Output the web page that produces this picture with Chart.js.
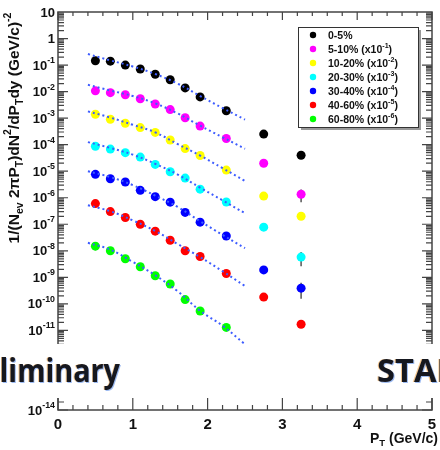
<!DOCTYPE html>
<html>
<head>
<meta charset="utf-8">
<script src="https://cdn.jsdelivr.net/npm/chart.js@4"></script>
<style>
  html, body { margin: 0; padding: 0; background: #fff; }
  #spectra { display: block; }
</style>
</head>
<body>
<canvas id="spectra" width="440" height="450"></canvas>
<script>
// pT bin centres (GeV/c)
const ptBins = [0.5, 0.7, 0.9, 1.1, 1.3, 1.5, 1.7, 1.9, 2.25, 2.75, 3.25];

// scaled spectra
const cent0_5   = [0.146, 0.14, 0.10, 0.071, 0.045, 0.028, 0.0138, 0.0063, 0.0019, 2.5e-4, 4.0e-5];
const cent5_10  = [0.0107, 0.0091, 0.0076, 0.0054, 0.0034, 0.0021, 0.00103, 5.0e-4, 1.7e-4, 2.0e-5, 1.35e-6];
const cent10_20 = [1.4e-3, 9.1e-4, 6.4e-4, 4.4e-4, 2.9e-4, 1.5e-4, 7.1e-5, 3.9e-5, 1.1e-5, 1.15e-6, 2.0e-7];
const cent20_30 = [8.7e-5, 6.8e-5, 5.0e-5, 3.4e-5, 1.8e-5, 9.5e-6, 5.5e-6, 2.1e-6, 6.9e-7, 7.8e-8, 5.8e-9];
const cent30_40 = [7.6e-6, 5.2e-6, 3.9e-6, 1.9e-6, 1.1e-6, 6.8e-7, 2.8e-7, 1.2e-7, 3.6e-8, 1.9e-9, 3.9e-10];
const cent40_60 = [6.0e-7, 3.0e-7, 1.8e-7, 1.0e-7, 5.5e-8, 2.5e-8, 1.0e-8, 6.1e-9, 1.4e-9, 1.8e-10, 1.7e-11];
const cent60_80 = [1.5e-8, 1.0e-8, 5.0e-9, 2.5e-9, 1.15e-9, 5.6e-10, 1.45e-10, 5.4e-11, 1.3e-11, null, null];

// relative error bars (only the visible ones)
const errFrac = [
  [0,0,0,0,0,0,0,0,0,0,0],
  [0,0,0,0,0,0,0,0,0,0,0.5],
  [0,0,0,0,0,0,0,0,0,0,0],
  [0,0,0,0,0,0,0,0,0,0,0.55],
  [0,0,0,0,0,0,0,0,0,0,0.6],
  [0,0,0,0,0,0,0,0,0,0,0.25],
  [0.3,0,0,0,0,0,0,0,0,0,0]
];

// fit curves
const fitPt = [0.4, 0.7, 1.0, 1.3, 1.6, 1.9, 2.2, 2.5];
const fit0_5   = [0.26, 0.15, 0.088, 0.046, 0.02, 0.0068, 0.0024, 8.8e-4];
const fit5_10  = [0.018, 0.011, 0.0068, 0.0036, 0.0015, 5.2e-4, 1.9e-4, 7.0e-5];
const fit10_20 = [1.8e-3, 1.05e-3, 5.6e-4, 2.9e-4, 1.05e-4, 3.9e-5, 1.3e-5, 4.3e-6];
const fit20_30 = [1.25e-4, 7.5e-5, 4.2e-5, 1.9e-5, 7.5e-6, 2.4e-6, 8.0e-7, 2.6e-7];
const fit30_40 = [1.0e-5, 6.0e-6, 3.0e-6, 1.2e-6, 4.5e-7, 1.3e-7, 4.0e-8, 1.25e-8];
const fit40_60 = [5.2e-7, 3.1e-7, 1.4e-7, 5.6e-8, 1.8e-8, 5.8e-9, 1.7e-9, 4.7e-10];
const fit60_80 = [2.0e-8, 1.1e-8, 3.8e-9, 1.2e-9, 3.0e-10, 5.5e-11, 1.5e-11, 3.0e-12];

const centLabels = ['0-5%', '5-10%', '10-20%', '20-30%', '30-40%', '40-60%', '60-80%'];
const scaleExp = [null, '-1', '-2', '-3', '-4', '-5', '-6'];
const centColors = ['#000000', '#ff00ff', '#ffff00', '#00ffff', '#0000ff', '#ff0000', '#00ff00'];

const xTicks = [0, 1, 2, 3, 4, 5];
const yDecades = [1, 0, -1, -2, -3, -4, -5, -6, -7, -8, -9, -10, -11, -12, -13, -14];

const allSeries = [cent0_5, cent5_10, cent10_20, cent20_30, cent30_40, cent40_60, cent60_80];
const allFits = [fit0_5, fit5_10, fit10_20, fit20_30, fit30_40, fit40_60, fit60_80];

const FONT = '"Liberation Sans", Arial, sans-serif';

// text with sub/superscripts: parts = [[text, mode]], mode 1 sup, -1 sub
function richWidth(ctx, parts, size) {
  let w = 0;
  parts.forEach(([t, m]) => {
    ctx.font = `bold ${m === 0 ? size : size * 0.68}px ${FONT}`;
    w += ctx.measureText(t).width;
  });
  return w;
}
function drawRich(ctx, parts, x, y, size) {
  let cx = x;
  parts.forEach(([t, m]) => {
    ctx.font = `bold ${m === 0 ? size : size * 0.68}px ${FONT}`;
    const dy = m === 1 ? -size * 0.42 : (m === -1 ? size * 0.32 : 0);
    ctx.fillText(t, cx, y + dy);
    cx += ctx.measureText(t).width;
  });
}

const datasets = [];
allSeries.forEach((vals, s) => {
  datasets.push({
    type: 'line',
    data: fitPt.map((x, i) => ({ x: x, y: allFits[s][i] })),
    borderColor: '#3d5cff',
    borderWidth: 2,
    borderDash: [2, 3],
    pointRadius: 0,
    tension: 0.4,
    fill: false,
    order: 0
  });
  datasets.push({
    type: 'scatter',
    data: ptBins.map((x, i) => ({ x: x, y: vals[i] })).filter(p => p.y !== null),
    pointRadius: 4.5,
    pointBackgroundColor: centColors[s],
    pointBorderWidth: 0,
    order: 1
  });
});

const framePlugin = {
  id: 'framePlugin',
  beforeDatasetsDraw(chart) {
    const ctx = chart.ctx;
    const xs = chart.scales.x, ys = chart.scales.y;
    ctx.save();
    ctx.strokeStyle = '#555';
    ctx.lineWidth = 1.5;
    allSeries.forEach((vals, s) => {
      vals.forEach((v, i) => {
        const f = errFrac[s][i];
        if (!v || !f) return;
        const px = xs.getPixelForValue(ptBins[i]);
        ctx.beginPath();
        ctx.moveTo(px, ys.getPixelForValue(v * (1 + f)));
        ctx.lineTo(px, ys.getPixelForValue(v * (1 - f)));
        ctx.stroke();
      });
    });
    ctx.restore();
  },
  afterDraw(chart) {
    const ctx = chart.ctx;
    const a = chart.chartArea;
    const xs = chart.scales.x, ys = chart.scales.y;
    ctx.save();

    // frame
    ctx.strokeStyle = '#444';
    ctx.lineWidth = 1.5;
    ctx.strokeRect(a.left, a.top, a.right - a.left, a.bottom - a.top);

    // x ticks (inward, top and bottom)
    ctx.lineWidth = 1.2;
    for (let k = 0; k <= 25; k++) {
      const v = k * 0.2;
      const px = xs.getPixelForValue(v);
      const major = k % 5 === 0;
      ctx.beginPath();
      ctx.moveTo(px, a.bottom);
      ctx.lineTo(px, a.bottom - (major ? 12 : 5));
      ctx.moveTo(px, a.top);
      ctx.lineTo(px, a.top + (major ? 8 : 4));
      ctx.stroke();
    }
    // y ticks (inward, left and right)
    for (let n = -14; n <= 0; n++) {
      for (let m = 1; m <= 9; m++) {
        const v = m * Math.pow(10, n);
        const py = ys.getPixelForValue(v);
        const len = m === 1 ? 10 : 6;
        ctx.beginPath();
        ctx.moveTo(a.left, py);
        ctx.lineTo(a.left + len, py);
        ctx.moveTo(a.right, py);
        ctx.lineTo(a.right - len, py);
        ctx.stroke();
      }
    }

    // tick labels
    ctx.fillStyle = '#111';
    ctx.textBaseline = 'middle';
    ctx.textAlign = 'center';
    ctx.font = `bold 15px ${FONT}`;
    xTicks.forEach(t => ctx.fillText(String(t), xs.getPixelForValue(t), a.bottom + 15));
    ctx.textAlign = 'left';
    yDecades.forEach(n => {
      const py = ys.getPixelForValue(Math.pow(10, n));
      let parts;
      if (n === 1) parts = [['10', 0]];
      else if (n === 0) parts = [['1', 0]];
      else parts = [['10', 0], [String(n), 1]];
      const w = richWidth(ctx, parts, 13);
      drawRich(ctx, parts, 55 - w, py + 1, 13);
    });

    // axis titles
    const xt = [['P', 0], ['T', -1], [' (GeV/c)', 0]];
    const xw = richWidth(ctx, xt, 14);
    drawRich(ctx, xt, 438 - xw, 439, 14);

    const yt = [['1/(N', 0], ['ev', -1], [' 2\u03c0P', 0], ['T', -1], [')dN', 0], ['2', 1],
                ['/dP', 0], ['T', -1], ['dy (GeV/c)', 0], ['-2', 1]];
    const yw = richWidth(ctx, yt, 15.5);
    ctx.save();
    ctx.translate(15, 128);
    ctx.rotate(-Math.PI / 2);
    drawRich(ctx, yt, -yw / 2, 0, 15.5);
    ctx.restore();

    // legend box
    const lx = 298, ly = 27, lw = 120, lh = 100;
    ctx.fillStyle = '#999';
    ctx.fillRect(lx + 3, ly + 3, lw, lh);
    ctx.fillStyle = '#fff';
    ctx.fillRect(lx, ly, lw, lh);
    ctx.strokeStyle = '#333';
    ctx.lineWidth = 1;
    ctx.strokeRect(lx + 0.5, ly + 0.5, lw, lh);
    centLabels.forEach((lab, i) => {
      const ry = 35 + i * 14;
      ctx.beginPath();
      ctx.arc(313, ry, 3.2, 0, Math.PI * 2);
      ctx.fillStyle = centColors[i];
      ctx.fill();
      ctx.fillStyle = '#111';
      const parts = scaleExp[i] ? [[lab + ' (x10', 0], [scaleExp[i], 1], [')', 0]] : [[lab, 0]];
      drawRich(ctx, parts, 328, ry + 1, 10.5);
    });

    // "STAR Preliminary" banner over the plot
    ctx.fillStyle = '#fff';
    ctx.fillRect(0, 344, 440, 54);
    ctx.font = `bold 32px "Open Sans", ${FONT}`;
    ctx.textBaseline = 'alphabetic';
    const drawBanner = (txt, x, align) => {
      ctx.textAlign = align;
      ctx.fillStyle = 'rgba(240,150,40,0.5)';
      ctx.fillText(txt, x - 1, 382);
      ctx.fillStyle = 'rgba(60,120,230,0.5)';
      ctx.fillText(txt, x + 1, 383);
      ctx.fillStyle = '#15171f';
      ctx.fillText(txt, x, 382);
    };
    ctx.save();
    ctx.translate(120, 0);
    ctx.scale(0.9, 1);
    drawBanner('Preliminary', 0, 'right');
    ctx.restore();
    ctx.save();
    ctx.translate(377, 0);
    ctx.scale(1.02, 1);
    drawBanner('STAR', 0, 'left');
    ctx.restore();

    ctx.restore();
  }
};

new Chart(document.getElementById('spectra'), {
  type: 'scatter',
  data: { datasets: datasets },
  options: {
    responsive: false,
    animation: false,
    layout: { padding: { left: 58, right: 8, top: 12, bottom: 40 } },
    scales: {
      x: { type: 'linear', min: 0, max: 5, display: false },
      y: { type: 'logarithmic', min: 1e-14, max: 10, display: false }
    },
    plugins: {
      legend: { display: false },
      tooltip: { enabled: false }
    }
  },
  plugins: [framePlugin]
});
</script>
</body>
</html>
